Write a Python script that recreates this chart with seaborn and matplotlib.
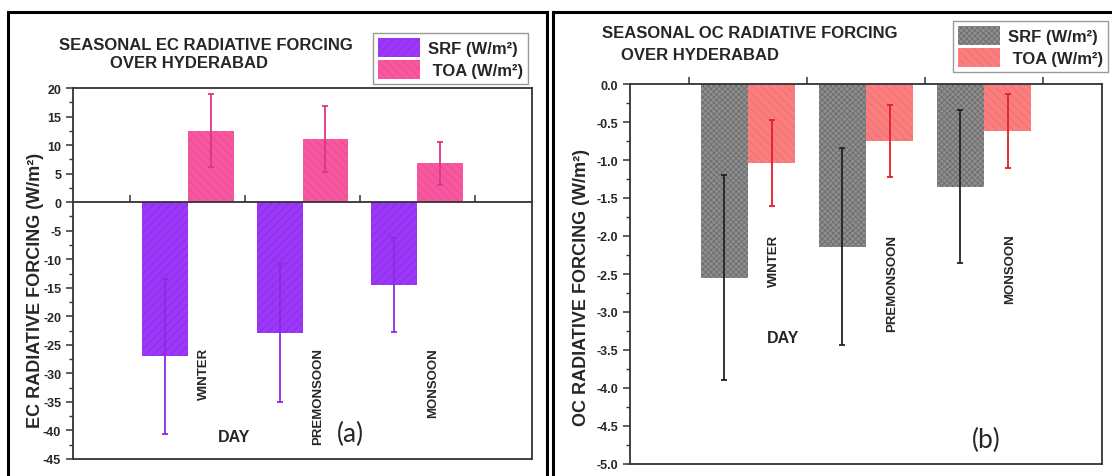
import matplotlib
matplotlib.use("Agg")
import pandas as pd
import seaborn as sns
import matplotlib.pyplot as plt
from matplotlib.ticker import MultipleLocator, FormatStrFormatter
from matplotlib.patches import Rectangle


seasons = ["WINTER", "PREMONSOON", "MONSOON"]
series = ["SRF", "TOA"]
legend_labels = ["SRF (W/m²)", " TOA (W/m²)"]

# panel (a): elemental carbon
ec_srf = [-27.0, -23.0, -14.5]
ec_srf_err = [13.6, 12.1, 8.2]
ec_toa = [12.5, 11.0, 6.8]
ec_toa_err = [6.4, 5.8, 3.8]

# panel (b): organic carbon
oc_srf = [-2.55, -2.14, -1.35]
oc_srf_err = [1.35, 1.30, 1.01]
oc_toa = [-1.04, -0.75, -0.62]
oc_toa_err = [0.56, 0.47, 0.49]

W, H = 1112, 477

sns.set_style("ticks")
plt.rcParams["font.family"] = ["Liberation Sans", "DejaVu Sans"]
plt.rcParams["font.weight"] = "bold"
plt.rcParams["axes.unicode_minus"] = False
plt.rcParams["hatch.linewidth"] = 0.6

SPINE = "#333333"


def draw_panel(ax, srf, srf_err, toa, toa_err, colors, hatch_cols, hatches, err_cols):
    df = pd.DataFrame({
        "season": seasons * 2,
        "type": ["SRF"] * 3 + ["TOA"] * 3,
        "value": srf + toa,
    })
    sns.barplot(df, x="season", y="value", hue="type", order=seasons,
                hue_order=series, palette=dict(zip(series, colors)),
                saturation=1, errorbar=None, width=0.8, legend=False, ax=ax)
    bars = list(ax.containers)
    for cont, hc, h, ec, err in zip(bars, hatch_cols, hatches, err_cols, [srf_err, toa_err]):
        xs, ys = [], []
        for b in cont:
            b.set_hatch(h)
            b.set_edgecolor(hc)
            b.set_linewidth(0)
            xs.append(b.get_x() + b.get_width() / 2)
            ys.append(b.get_height())
        ax.errorbar(xs, ys, yerr=err, fmt="none", ecolor=ec, elinewidth=1.3,
                    capsize=2.5, capthick=1.3)
    ax.set_xlabel("")
    ax.set_ylabel("")
    ax.set_xlim(-1, 3)
    for sp in ax.spines.values():
        sp.set_visible(True)
        sp.set_color(SPINE)
        sp.set_linewidth(1.3)
    ax.set_xticks([-0.5, 0.5, 1.5, 2.5], labels=[])
    ax.tick_params(axis="y", which="major", direction="out", length=5, width=1.1,
                   labelsize=9, color=SPINE, right=False)
    ax.tick_params(axis="y", which="minor", direction="out", length=3, width=1.0,
                   color=SPINE, right=False)
    return bars


def add_legend(ax, bars, anchor, loc):
    leg = ax.legend(bars, legend_labels, loc=loc, bbox_to_anchor=anchor,
                    bbox_transform=fig.transFigure, fancybox=False, edgecolor="#9a9a9a",
                    framealpha=1, borderpad=0.3, labelspacing=0.2, handlelength=2.5,
                    handleheight=1.35, handletextpad=0.5, borderaxespad=0,
                    prop=dict(weight="bold", size=12))
    leg.get_frame().set_linewidth(1.0)
    return leg


fig = plt.figure(figsize=(W / 100, H / 100), dpi=100)
ax1 = fig.add_axes([73 / W, 1 - 460 / H, (532 - 73) / W, (460 - 89) / H])
ax2 = fig.add_axes([630 / W, 1 - 465 / H, (1102 - 630) / W, (465 - 85) / H])

# ---- (a) EC ----
bars1 = draw_panel(ax1, ec_srf, ec_srf_err, ec_toa, ec_toa_err,
                   colors=["#9b38f7", "#f7579f"],
                   hatch_cols=["#8d2ae8", "#ec4a93"],
                   hatches=["////", "\\\\\\\\"],
                   err_cols=["#8a2be2", "#e0338a"])
ax1.set_ylim(-45, 20)
ax1.yaxis.set_major_locator(MultipleLocator(5))
ax1.yaxis.set_minor_locator(MultipleLocator(2.5))
ax1.spines["bottom"].set_position(("data", 0))
ax1.tick_params(axis="x", direction="in", length=5, width=1.1, color=SPINE,
                labelbottom=False, top=False)
ax1.plot([0, 1], [0, 0], transform=ax1.transAxes, color=SPINE, lw=1.3, clip_on=False)

for i, s in enumerate(seasons):
    ax1.text(i + 0.14, -25.4, s, rotation=90, ha="center", va="top", fontsize=9.5)
ax1.text(0.40, -41.1, "DAY", ha="center", va="center", fontsize=11.5)
ax1.text(1.42, -40.6, "(a)", ha="center", va="center", fontsize=19,
         fontweight="normal", family=["Lato", "DejaVu Sans"])

add_legend(ax1, bars1, (528 / W, 1 - 34 / H), "upper right")

fig.text(206 / W, 1 - 45 / H, "SEASONAL EC RADIATIVE FORCING", ha="center", va="center", fontsize=12)
fig.text(189 / W, 1 - 63 / H, "OVER HYDERABAD", ha="center", va="center", fontsize=12)
fig.text(36 / W, 1 - 290 / H, "EC RADIATIVE FORCING (W/m²)", rotation=90,
         ha="center", va="center", fontsize=13)

# ---- (b) OC ----
bars2 = draw_panel(ax2, oc_srf, oc_srf_err, oc_toa, oc_toa_err,
                   colors=["#8e8e8e", "#fa7e7e"],
                   hatch_cols=["#6c6c6c", "#ef6e6e"],
                   hatches=["xxxxxx", "\\\\\\\\"],
                   err_cols=["#222222", "#e41e26"])
ax2.set_ylim(-5, 0)
ax2.yaxis.set_major_locator(MultipleLocator(0.5))
ax2.yaxis.set_minor_locator(MultipleLocator(0.25))
ax2.yaxis.set_major_formatter(FormatStrFormatter("%.1f"))
ax2.xaxis.set_ticks_position("top")
ax2.tick_params(axis="x", direction="out", length=5, width=1.1, color=SPINE,
                labeltop=False, labelbottom=False)

for i, s in enumerate(seasons):
    ax2.text(i + 0.22, -1.97, s, rotation=90, ha="center", va="top", fontsize=9.5)
ax2.text(0.30, -3.34, "DAY", ha="center", va="center", fontsize=11.5)
ax2.text(2.02, -4.68, "(b)", ha="center", va="center", fontsize=19,
         fontweight="normal", family=["Lato", "DejaVu Sans"])

add_legend(ax2, bars2, (953 / W, 1 - 22 / H), "upper left")

fig.text(750 / W, 1 - 33 / H, "SEASONAL OC RADIATIVE FORCING", ha="center", va="center", fontsize=12)
fig.text(700 / W, 1 - 55 / H, "OVER HYDERABAD", ha="center", va="center", fontsize=12)
fig.text(581 / W, 1 - 288 / H, "OC RADIATIVE FORCING (W/m²)", rotation=90,
         ha="center", va="center", fontsize=13)

# panel frames
fig.add_artist(Rectangle((8 / W, -0.02), (547 - 8) / W, 1.02 - 13 / H,
                         transform=fig.transFigure, fill=False, lw=2.2, ec="black"))
fig.add_artist(Rectangle((553 / W, -0.02), 1.05 - 553 / W, 1.02 - 13 / H,
                         transform=fig.transFigure, fill=False, lw=2.2, ec="black"))

fig.savefig("out.png", dpi=100)
